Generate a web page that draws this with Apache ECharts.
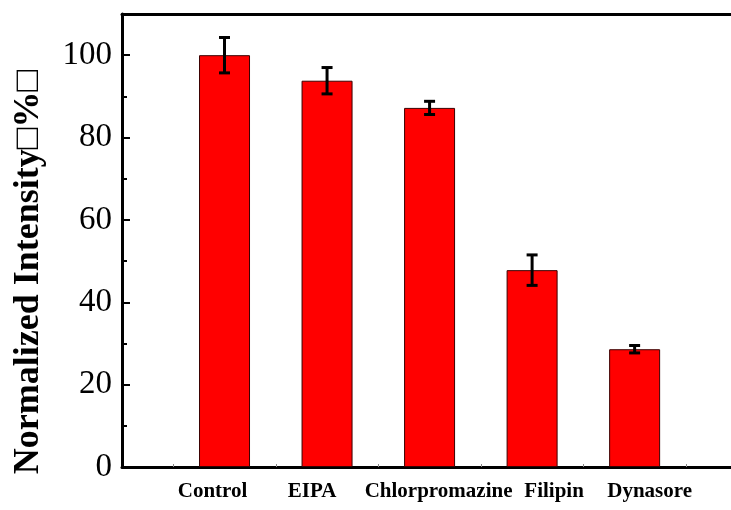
<!DOCTYPE html>
<html>
<head>
<meta charset="utf-8">
<script src="https://cdn.jsdelivr.net/npm/echarts@6/dist/echarts.min.js"></script>
<style>
  html, body { margin: 0; padding: 0; background: #fff; }
  #chart { width: 731px; height: 510px; }
</style>
</head>
<body>
<div id="chart"></div>
<script>
// Treatment groups, normalized intensity (%) and standard deviation
const categories = ['Control', 'EIPA', 'Chlorpromazine', 'Filipin', 'Dynasore'];
const intensity = [100, 93.8, 87.2, 47.8, 28.6];
const errors = [4.3, 3.2, 1.6, 3.7, 0.9];
const yTicks = [0, 20, 40, 60, 80, 100];

// Horizontal nudge (px) of each group label relative to its bar
const labelShift = [-12, -15, 9, 22, 15];

const serif = '"Liberation Serif", "Times New Roman", serif';

// Groups sit at positions 1..N on a numeric x axis; the frame is cut at the right edge
const barData = intensity.map((v, i) => [i + 1, v]);
const errData = intensity.map((v, i) => [i + 1, v, errors[i]]);

const rich = {};
categories.forEach((c, i) => {
  const s = labelShift[i];
  rich['g' + i] = {
    fontFamily: serif, fontWeight: 'bold', fontSize: 21, color: '#000',
    padding: s < 0 ? [0, -2 * s, 0, 0] : [0, 0, 0, 2 * s]
  };
});

const chart = echarts.init(document.getElementById('chart'));
chart.setOption({
  animation: false,
  grid: { left: 122, top: 14, right: 0, bottom: 43, containLabel: false },
  xAxis: [
    {
      type: 'value', min: 0, max: 5.94, interval: 0.5,
      position: 'bottom',
      axisLine: { show: true, onZero: false, lineStyle: { color: '#000', width: 3 } },
      axisTick: { show: true, inside: true, length: 3, lineStyle: { color: '#888', width: 1 } },
      splitLine: { show: false },
      axisLabel: {
        margin: 14, showMaxLabel: false, showMinLabel: false, rich,
        formatter: v => (Number.isInteger(v) && v >= 1 && v <= categories.length)
          ? '{g' + (v - 1) + '|' + categories[v - 1] + '}' : ''
      }
    },
    {
      type: 'value', min: 0, max: 5.94, position: 'top',
      axisLine: { show: true, onZero: false, lineStyle: { color: '#000', width: 3 } },
      axisTick: { show: false }, axisLabel: { show: false }, splitLine: { show: false }
    }
  ],
  yAxis: {
    type: 'value', min: 0, max: 110, interval: 20,
    axisLine: { show: true, lineStyle: { color: '#000', width: 3 } },
    axisTick: { show: true, inside: true, length: 8, lineStyle: { color: '#000', width: 2 } },
    minorTick: { show: true, splitNumber: 2, length: 5, lineStyle: { color: '#000', width: 2 } },
    splitLine: { show: false },
    axisLabel: {
      margin: 10, showMaxLabel: false,
      fontFamily: serif, fontSize: 33, color: '#000',
      formatter: v => yTicks.includes(v) ? String(v) : ''
    }
  },
  graphic: [{
    type: 'text', x: 29, y: 272, rotation: Math.PI / 2,
    style: {
      text: 'Normalized Intensity\u25A1%\u25A1',
      font: 'bold 36px ' + serif, fill: '#000',
      textAlign: 'center', textVerticalAlign: 'middle'
    }
  }],
  series: [
    {
      type: 'bar', xAxisIndex: 0, data: barData, barWidth: 51,
      itemStyle: { color: '#ff0000', borderColor: '#3a0000', borderWidth: 1 }
    },
    {
      type: 'custom', xAxisIndex: 0, data: errData, z: 5,
      renderItem: (params, api) => {
        const x = api.value(0), y = api.value(1), e = api.value(2);
        const top = api.coord([x, y + e]);
        const bot = api.coord([x, y - e]);
        const half = 5.5;
        const style = { stroke: '#000', lineWidth: 3 };
        return {
          type: 'group',
          children: [
            { type: 'line', shape: { x1: top[0], y1: top[1], x2: bot[0], y2: bot[1] }, style },
            { type: 'line', shape: { x1: top[0] - half, y1: top[1], x2: top[0] + half, y2: top[1] }, style },
            { type: 'line', shape: { x1: bot[0] - half, y1: bot[1], x2: bot[0] + half, y2: bot[1] }, style }
          ]
        };
      }
    }
  ]
});
</script>
</body>
</html>
